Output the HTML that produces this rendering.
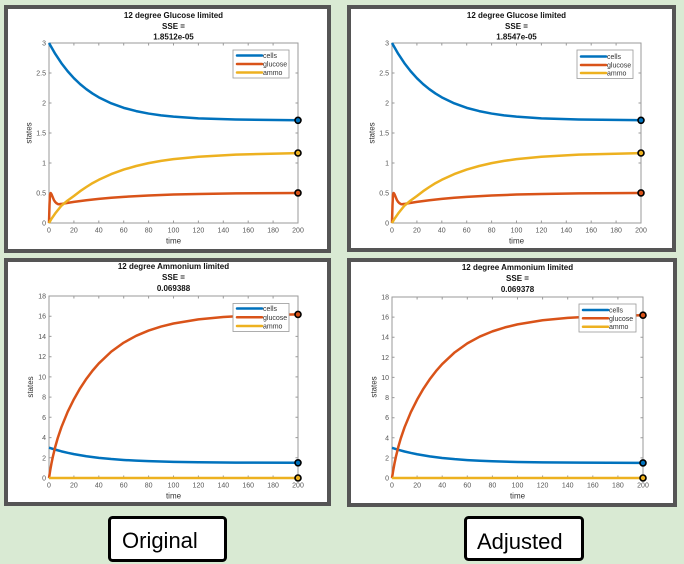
<!DOCTYPE html>
<html><head><meta charset="utf-8"><style>
html,body{margin:0;padding:0;background:#d9ead3;}
svg{display:block;}
text{font-family:"Liberation Sans",Arial,sans-serif;}
.tt{font-size:8px;font-weight:bold;fill:#111;text-anchor:middle;}
.tk{font-size:7px;fill:#555;}
.tx{text-anchor:middle;}
.ty{text-anchor:end;}
.al{font-size:8px;fill:#333;text-anchor:middle;}
.lg{font-size:7px;fill:#333;}
.ax{fill:none;stroke:#9a9a9a;stroke-width:1;}
.ln{fill:none;stroke-width:2.5;stroke-linejoin:round;stroke-linecap:round;}
.c1{stroke:#0072BD;}.c2{stroke:#D95319;}.c3{stroke:#EDB120;}
.d{fill:none;stroke-width:2.5;stroke-linejoin:round;vector-effect:non-scaling-stroke;}
.mk{stroke:#000;stroke-width:1.6;}
</style></head><body>
<svg width="684" height="564" viewBox="0 0 684 564" xmlns="http://www.w3.org/2000/svg">
<rect x="0" y="0" width="684" height="564" fill="#d9ead3"/>

<!-- panels -->
<rect x="6" y="7" width="323" height="244" fill="#fff" stroke="#555" stroke-width="4"/>
<rect x="349" y="7" width="325" height="243" fill="#fff" stroke="#555" stroke-width="4"/>
<rect x="6" y="260" width="323" height="244" fill="#fff" stroke="#555" stroke-width="4"/>
<rect x="349" y="260" width="326" height="245" fill="#fff" stroke="#555" stroke-width="4"/>

<!-- ================= TOP LEFT ================= -->
<text class="tt" x="173.5" y="18">12 degree Glucose limited</text>
<text class="tt" x="173.5" y="29">SSE =</text>
<text class="tt" x="173.5" y="39.5">1.8512e-05</text>
<rect class="ax" x="49" y="43" width="249" height="180"/>
<path class="ax" d="M73.9 223v-2.5M98.8 223v-2.5M123.7 223v-2.5M148.6 223v-2.5M173.5 223v-2.5M198.4 223v-2.5M223.3 223v-2.5M248.2 223v-2.5M273.1 223v-2.5
M73.9 43v2.5M98.8 43v2.5M123.7 43v2.5M148.6 43v2.5M173.5 43v2.5M198.4 43v2.5M223.3 43v2.5M248.2 43v2.5M273.1 43v2.5
M49 193h2.5M49 163h2.5M49 133h2.5M49 103h2.5M49 73h2.5M298 193h-2.5M298 163h-2.5M298 133h-2.5M298 103h-2.5M298 73h-2.5"/>
<g class="tk tx">
<text x="49" y="232.5">0</text><text x="73.9" y="232.5">20</text><text x="98.8" y="232.5">40</text><text x="123.7" y="232.5">60</text><text x="148.6" y="232.5">80</text><text x="173.5" y="232.5">100</text><text x="198.4" y="232.5">120</text><text x="223.3" y="232.5">140</text><text x="248.2" y="232.5">160</text><text x="273.1" y="232.5">180</text><text x="298" y="232.5">200</text>
</g>
<g class="tk ty">
<text x="46" y="225.5">0</text><text x="46" y="195.5">0.5</text><text x="46" y="165.5">1</text><text x="46" y="135.5">1.5</text><text x="46" y="105.5">2</text><text x="46" y="75.5">2.5</text><text x="46" y="45.5">3</text>
</g>
<text class="al" x="173.5" y="243.5">time</text>
<text class="al" transform="translate(31.5,133) rotate(-90)">states</text>
<g transform="translate(49,223) scale(1.245,-60)">
<polyline class="d c1" points="0,3 5,2.819 10,2.663 15,2.529 20,2.414 25,2.315 30,2.230 35,2.157 40,2.094 50,1.994 60,1.919 70,1.865 80,1.824 90,1.794 100,1.772 120,1.744 150,1.724 200,1.713"/>
<polyline class="d c2" points="0,0 0.4,0.3 0.8,0.47 1.3,0.5 2,0.48 3,0.43 4,0.38 5,0.35 6,0.33 7,0.317 8,0.312 10,0.318 15,0.336 20,0.352 30,0.379 40,0.402 50,0.421 60,0.436 80,0.459 100,0.474 120,0.484 150,0.494 200,0.501"/>
<polyline class="d c3" points="0,0 2,0.07 5,0.16 10,0.29 15,0.375 20,0.45 25,0.53 30,0.60 35,0.665 40,0.72 50,0.815 60,0.89 70,0.95 80,0.998 90,1.035 100,1.065 120,1.105 150,1.14 200,1.165"/>
</g>
<circle class="mk" cx="298" cy="120.3" r="3" fill="#0072BD"/>
<circle class="mk" cx="298" cy="153" r="3" fill="#EDB120"/>
<circle class="mk" cx="298" cy="192.9" r="3" fill="#D95319"/>
<rect x="233" y="50" width="56" height="28" fill="#fff" stroke="#999" stroke-width="0.8"/>
<path class="ln c1" d="M237 55.5h25"/><path class="ln c2" d="M237 64h25"/><path class="ln c3" d="M237 72.5h25"/>
<text class="lg" x="263" y="58">cells</text><text class="lg" x="263" y="66.5">glucose</text><text class="lg" x="263" y="75">ammo</text>

<!-- ================= TOP RIGHT ================= -->
<text class="tt" x="516.5" y="18">12 degree Glucose limited</text>
<text class="tt" x="516.5" y="29">SSE =</text>
<text class="tt" x="516.5" y="39.5">1.8547e-05</text>
<rect class="ax" x="392" y="43" width="249" height="180"/>
<path class="ax" d="M416.9 223v-2.5M441.8 223v-2.5M466.7 223v-2.5M491.6 223v-2.5M516.5 223v-2.5M541.4 223v-2.5M566.3 223v-2.5M591.2 223v-2.5M616.1 223v-2.5
M416.9 43v2.5M441.8 43v2.5M466.7 43v2.5M491.6 43v2.5M516.5 43v2.5M541.4 43v2.5M566.3 43v2.5M591.2 43v2.5M616.1 43v2.5
M392 193h2.5M392 163h2.5M392 133h2.5M392 103h2.5M392 73h2.5M641 193h-2.5M641 163h-2.5M641 133h-2.5M641 103h-2.5M641 73h-2.5"/>
<g class="tk tx">
<text x="392" y="232.5">0</text><text x="416.9" y="232.5">20</text><text x="441.8" y="232.5">40</text><text x="466.7" y="232.5">60</text><text x="491.6" y="232.5">80</text><text x="516.5" y="232.5">100</text><text x="541.4" y="232.5">120</text><text x="566.3" y="232.5">140</text><text x="591.2" y="232.5">160</text><text x="616.1" y="232.5">180</text><text x="641" y="232.5">200</text>
</g>
<g class="tk ty">
<text x="389" y="225.5">0</text><text x="389" y="195.5">0.5</text><text x="389" y="165.5">1</text><text x="389" y="135.5">1.5</text><text x="389" y="105.5">2</text><text x="389" y="75.5">2.5</text><text x="389" y="45.5">3</text>
</g>
<text class="al" x="516.5" y="243.5">time</text>
<text class="al" transform="translate(374.5,133) rotate(-90)">states</text>
<g transform="translate(392,223) scale(1.245,-60)">
<polyline class="d c1" points="0,3 5,2.819 10,2.663 15,2.529 20,2.414 25,2.315 30,2.230 35,2.157 40,2.094 50,1.994 60,1.919 70,1.865 80,1.824 90,1.794 100,1.772 120,1.744 150,1.724 200,1.713"/>
<polyline class="d c2" points="0,0 0.4,0.3 0.8,0.47 1.3,0.5 2,0.48 3,0.43 4,0.38 5,0.35 6,0.33 7,0.317 8,0.312 10,0.318 15,0.336 20,0.352 30,0.379 40,0.402 50,0.421 60,0.436 80,0.459 100,0.474 120,0.484 150,0.494 200,0.501"/>
<polyline class="d c3" points="0,0 2,0.07 5,0.16 10,0.29 15,0.375 20,0.45 25,0.53 30,0.60 35,0.665 40,0.72 50,0.815 60,0.89 70,0.95 80,0.998 90,1.035 100,1.065 120,1.105 150,1.14 200,1.165"/>
</g>
<circle class="mk" cx="641" cy="120.3" r="3" fill="#0072BD"/>
<circle class="mk" cx="641" cy="153" r="3" fill="#EDB120"/>
<circle class="mk" cx="641" cy="192.9" r="3" fill="#D95319"/>
<rect x="577" y="50" width="56" height="28.5" fill="#fff" stroke="#999" stroke-width="0.8"/>
<path class="ln c1" d="M581 56.5h25"/><path class="ln c2" d="M581 65h25"/><path class="ln c3" d="M581 73h25"/>
<text class="lg" x="607" y="59">cells</text><text class="lg" x="607" y="67.5">glucose</text><text class="lg" x="607" y="75.5">ammo</text>

<!-- ================= BOTTOM LEFT ================= -->
<text class="tt" x="173.5" y="269">12 degree Ammonium limited</text>
<text class="tt" x="173.5" y="280">SSE =</text>
<text class="tt" x="173.5" y="291">0.069388</text>
<rect class="ax" x="49" y="296" width="249" height="182"/>
<path class="ax" d="M73.9 478v-2.5M98.8 478v-2.5M123.7 478v-2.5M148.6 478v-2.5M173.5 478v-2.5M198.4 478v-2.5M223.3 478v-2.5M248.2 478v-2.5M273.1 478v-2.5
M73.9 296v2.5M98.8 296v2.5M123.7 296v2.5M148.6 296v2.5M173.5 296v2.5M198.4 296v2.5M223.3 296v2.5M248.2 296v2.5M273.1 296v2.5
M49 457.8h2.5M49 437.6h2.5M49 417.3h2.5M49 397.1h2.5M49 376.9h2.5M49 356.7h2.5M49 336.4h2.5M49 316.2h2.5
M298 457.8h-2.5M298 437.6h-2.5M298 417.3h-2.5M298 397.1h-2.5M298 376.9h-2.5M298 356.7h-2.5M298 336.4h-2.5M298 316.2h-2.5"/>
<g class="tk tx">
<text x="49" y="487.5">0</text><text x="73.9" y="487.5">20</text><text x="98.8" y="487.5">40</text><text x="123.7" y="487.5">60</text><text x="148.6" y="487.5">80</text><text x="173.5" y="487.5">100</text><text x="198.4" y="487.5">120</text><text x="223.3" y="487.5">140</text><text x="248.2" y="487.5">160</text><text x="273.1" y="487.5">180</text><text x="298" y="487.5">200</text>
</g>
<g class="tk ty">
<text x="46" y="480.5">0</text><text x="46" y="460.3">2</text><text x="46" y="440.1">4</text><text x="46" y="419.8">6</text><text x="46" y="399.6">8</text><text x="46" y="379.4">10</text><text x="46" y="359.2">12</text><text x="46" y="338.9">14</text><text x="46" y="318.7">16</text><text x="46" y="298.5">18</text>
</g>
<text class="al" x="173.5" y="498.5">time</text>
<text class="al" transform="translate(33,387) rotate(-90)">states</text>
<g transform="translate(49,478) scale(1.245,-10.111)">
<polyline class="d c1" points="0,3 5,2.806 10,2.636 15,2.490 20,2.361 30,2.152 40,1.994 50,1.874 60,1.783 70,1.715 80,1.663 100,1.593 120,1.554 150,1.523 200,1.506"/>
<polyline class="d c2" points="0,0 1,0.774 2,1.451 3,2.054 5,3.080 7,3.946 10,5.040 15,6.544 20,7.793 25,8.872 30,9.805 35,10.62 40,11.333 50,12.496 60,13.385 70,14.063 80,14.581 90,14.977 100,15.278 120,15.684 140,15.921 160,16.058 180,16.138 200,16.185"/>
<polyline class="d c3" points="0,0 200,0"/>
</g>
<circle class="mk" cx="298" cy="314.4" r="3" fill="#D95319"/>
<circle class="mk" cx="298" cy="462.8" r="3" fill="#0072BD"/>
<circle class="mk" cx="298" cy="478" r="3" fill="#EDB120"/>
<rect x="233" y="303.5" width="56" height="28" fill="#fff" stroke="#999" stroke-width="0.8"/>
<path class="ln c1" d="M237 308.5h25"/><path class="ln c2" d="M237 317.3h25"/><path class="ln c3" d="M237 326h25"/>
<text class="lg" x="263" y="311">cells</text><text class="lg" x="263" y="319.8">glucose</text><text class="lg" x="263" y="328.5">ammo</text>

<!-- ================= BOTTOM RIGHT ================= -->
<text class="tt" x="517.5" y="270">12 degree Ammonium limited</text>
<text class="tt" x="517.5" y="281">SSE =</text>
<text class="tt" x="517.5" y="292">0.069378</text>
<rect class="ax" x="392" y="297" width="251" height="181"/>
<path class="ax" d="M417.1 478v-2.5M442.2 478v-2.5M467.3 478v-2.5M492.4 478v-2.5M517.5 478v-2.5M542.6 478v-2.5M567.7 478v-2.5M592.8 478v-2.5M617.9 478v-2.5
M417.1 297v2.5M442.2 297v2.5M467.3 297v2.5M492.4 297v2.5M517.5 297v2.5M542.6 297v2.5M567.7 297v2.5M592.8 297v2.5M617.9 297v2.5
M392 457.9h2.5M392 437.8h2.5M392 417.7h2.5M392 397.6h2.5M392 377.4h2.5M392 357.3h2.5M392 337.2h2.5M392 317.1h2.5
M643 457.9h-2.5M643 437.8h-2.5M643 417.7h-2.5M643 397.6h-2.5M643 377.4h-2.5M643 357.3h-2.5M643 337.2h-2.5M643 317.1h-2.5"/>
<g class="tk tx">
<text x="392" y="487.5">0</text><text x="417.1" y="487.5">20</text><text x="442.2" y="487.5">40</text><text x="467.3" y="487.5">60</text><text x="492.4" y="487.5">80</text><text x="517.5" y="487.5">100</text><text x="542.6" y="487.5">120</text><text x="567.7" y="487.5">140</text><text x="592.8" y="487.5">160</text><text x="617.9" y="487.5">180</text><text x="643" y="487.5">200</text>
</g>
<g class="tk ty">
<text x="389" y="480.5">0</text><text x="389" y="460.4">2</text><text x="389" y="440.3">4</text><text x="389" y="420.2">6</text><text x="389" y="400.1">8</text><text x="389" y="379.9">10</text><text x="389" y="359.8">12</text><text x="389" y="339.7">14</text><text x="389" y="319.6">16</text><text x="389" y="299.5">18</text>
</g>
<text class="al" x="517.5" y="498.5">time</text>
<text class="al" transform="translate(376.5,387) rotate(-90)">states</text>
<g transform="translate(392,478) scale(1.255,-10.056)">
<polyline class="d c1" points="0,3 5,2.806 10,2.636 15,2.490 20,2.361 30,2.152 40,1.994 50,1.874 60,1.783 70,1.715 80,1.663 100,1.593 120,1.554 150,1.523 200,1.506"/>
<polyline class="d c2" points="0,0 1,0.774 2,1.451 3,2.054 5,3.080 7,3.946 10,5.040 15,6.544 20,7.793 25,8.872 30,9.805 35,10.62 40,11.333 50,12.496 60,13.385 70,14.063 80,14.581 90,14.977 100,15.278 120,15.684 140,15.921 160,16.058 180,16.138 200,16.185"/>
<polyline class="d c3" points="0,0 200,0"/>
</g>
<circle class="mk" cx="643" cy="315.2" r="3" fill="#D95319"/>
<circle class="mk" cx="643" cy="462.9" r="3" fill="#0072BD"/>
<circle class="mk" cx="643" cy="478" r="3" fill="#EDB120"/>
<rect x="579" y="304" width="57" height="28" fill="#fff" stroke="#999" stroke-width="0.8"/>
<path class="ln c1" d="M583 310h25"/><path class="ln c2" d="M583 318.3h25"/><path class="ln c3" d="M583 326.7h25"/>
<text class="lg" x="609" y="312.5">cells</text><text class="lg" x="609" y="320.8">glucose</text><text class="lg" x="609" y="329.2">ammo</text>

<!-- ================= BUTTONS ================= -->
<rect x="109.5" y="517.5" width="116" height="43" rx="3" fill="#fff" stroke="#000" stroke-width="3"/>
<text x="122" y="548" font-size="22" fill="#000">Original</text>
<rect x="465.5" y="517.5" width="117" height="42" rx="3" fill="#fff" stroke="#000" stroke-width="3"/>
<text x="477" y="549" font-size="22" fill="#000">Adjusted</text>
</svg>
</body></html>
